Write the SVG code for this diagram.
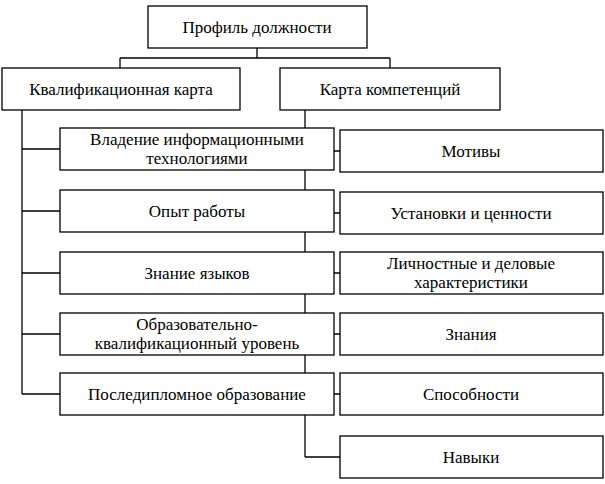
<svg xmlns="http://www.w3.org/2000/svg" width="605" height="484" viewBox="0 0 605 484">
<style>
rect{fill:#fff;stroke:#000;stroke-width:1.3}
text{font-family:'Liberation Serif','Times New Roman',serif;font-size:17px;text-anchor:middle;fill:#000}
.c line{stroke:#000;stroke-width:1.3}
</style>
<rect x="0" y="0" width="605" height="484" style="stroke:none"/>
<g class="c">
<line x1="257" y1="48" x2="257" y2="58"/>
<line x1="120" y1="58" x2="390" y2="58"/>
<line x1="120" y1="58" x2="120" y2="68"/>
<line x1="390" y1="58" x2="390" y2="68"/>
<line x1="22" y1="110" x2="22" y2="394"/>
<line x1="22" y1="149" x2="60" y2="149"/>
<line x1="22" y1="211" x2="60" y2="211"/>
<line x1="22" y1="273" x2="60" y2="273"/>
<line x1="22" y1="334" x2="60" y2="334"/>
<line x1="22" y1="394" x2="60" y2="394"/>
<line x1="305" y1="110" x2="305" y2="457"/>
<line x1="305" y1="151" x2="340" y2="151"/>
<line x1="305" y1="213" x2="340" y2="213"/>
<line x1="305" y1="273" x2="340" y2="273"/>
<line x1="305" y1="334" x2="340" y2="334"/>
<line x1="305" y1="394" x2="340" y2="394"/>
<line x1="305" y1="457" x2="340" y2="457"/>
</g>
<g font-family="Liberation Serif, serif">
<g id="n0"><rect x="148" y="6" width="219" height="42"/><text x="257" y="33">Профиль должности</text></g>
<g id="n1"><rect x="2" y="68" width="238" height="42"/><text x="121" y="95">Квалификационная карта</text></g>
<g id="n2"><rect x="280" y="68" width="220" height="42"/><text x="390" y="95">Карта компетенций</text></g>
<g id="l1"><rect x="60" y="128" width="274" height="42"/><text x="197" y="145">Владение информационными</text><text x="197" y="164">технологиями</text></g>
<g id="l2"><rect x="60" y="190" width="274" height="42"/><text x="197" y="217">Опыт работы</text></g>
<g id="l3"><rect x="60" y="252" width="274" height="42"/><text x="197" y="279">Знание языков</text></g>
<g id="l4"><rect x="60" y="313" width="274" height="42"/><text x="197" y="330">Образовательно-</text><text x="197" y="349">квалификационный уровень</text></g>
<g id="l5"><rect x="60" y="373" width="274" height="42"/><text x="197" y="400">Последипломное образование</text></g>
<g id="r1"><rect x="340" y="130" width="263" height="42"/><text x="471" y="157">Мотивы</text></g>
<g id="r2"><rect x="340" y="192" width="263" height="42"/><text x="471" y="219">Установки и ценности</text></g>
<g id="r3"><rect x="340" y="252" width="263" height="42"/><text x="471" y="269">Личностные и деловые</text><text x="471" y="288">характеристики</text></g>
<g id="r4"><rect x="340" y="313" width="263" height="42"/><text x="471" y="340">Знания</text></g>
<g id="r5"><rect x="340" y="373" width="263" height="42"/><text x="471" y="400">Способности</text></g>
<g id="r6"><rect x="340" y="436" width="263" height="42"/><text x="471" y="463">Навыки</text></g>
</g>
</svg>
